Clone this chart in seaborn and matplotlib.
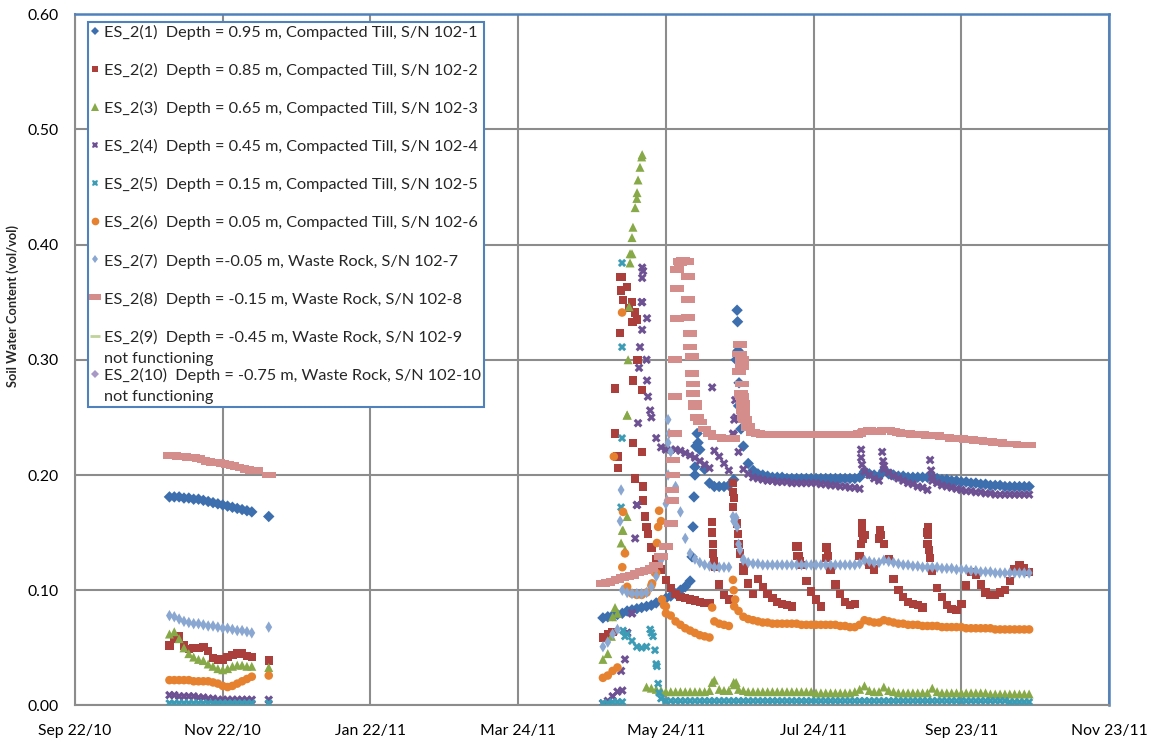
import numpy as np
import pandas as pd
import matplotlib
matplotlib.use("Agg")
import matplotlib.pyplot as plt
from matplotlib.lines import Line2D
from matplotlib.legend_handler import HandlerLine2D
import seaborn as sns

NA = np.nan
DAY0 = "2010-09-22"

# ---- x positions (days since Sep 22/10) ----
P1_DAYS = [39, 41, 43, 45, 47, 49, 51, 53, 55, 57, 59, 61, 63, 65, 67, 69, 71, 73, 75, 80]
P2_DAYS = list(range(218, 395, 2))   # 89 sample days, Apr 28/11 .. Oct 21/11

TICK_DATES = ["2010-09-22", "2010-11-22", "2011-01-22", "2011-03-24",
              "2011-05-24", "2011-07-24", "2011-09-23", "2011-11-23"]
TICK_LABELS = ["Sep 22/10", "Nov 22/10", "Jan 22/11", "Mar 24/11",
               "May 24/11", "Jul 24/11", "Sep 23/11", "Nov 23/11"]
Y_TICKS = [0.0, 0.1, 0.2, 0.3, 0.4, 0.5, 0.6]

LABELS = [
    "ES_2(1)  Depth = 0.95 m, Compacted Till, S/N 102-1",
    "ES_2(2)  Depth = 0.85 m, Compacted Till, S/N 102-2",
    "ES_2(3)  Depth = 0.65 m, Compacted Till, S/N 102-3",
    "ES_2(4)  Depth = 0.45 m, Compacted Till, S/N 102-4",
    "ES_2(5)  Depth = 0.15 m, Compacted Till, S/N 102-5",
    "ES_2(6)  Depth = 0.05 m, Compacted Till, S/N 102-6",
    "ES_2(7)  Depth =-0.05 m, Waste Rock, S/N 102-7",
    "ES_2(8)  Depth = -0.15 m, Waste Rock, S/N 102-8",
    "ES_2(9)  Depth = -0.45 m, Waste Rock, S/N 102-9\nnot functioning",
    "ES_2(10)  Depth = -0.75 m, Waste Rock, S/N 102-10\nnot functioning",
]

# ---- Series 1 (0.95 m) ----
S1_P1 = [0.181, 0.181, 0.181, 0.180, 0.180, 0.179, 0.179, 0.178, 0.177, 0.176,
         0.175, 0.174, 0.173, 0.172, 0.171, 0.170, 0.169, 0.168, NA, 0.164]
S1_P2 = [0.076, 0.077, 0.078, 0.079, 0.080, 0.082, 0.083, 0.084, 0.085, 0.086,
         0.087, 0.089, 0.091, 0.093, 0.095, 0.097, 0.100, 0.103, 0.108, 0.200,
         0.222, 0.205, 0.193, 0.190, 0.190, 0.190, 0.191, 0.196, 0.260, 0.225,
         0.210, 0.204, 0.201, 0.200, 0.199, 0.198, 0.198, 0.198, 0.197, 0.197,
         0.197, 0.197, 0.197, 0.197, 0.197, 0.197, 0.197, 0.197, 0.197, 0.197,
         0.197, 0.197, 0.197, 0.198, 0.203, 0.201, 0.200, 0.199, 0.204, 0.201,
         0.200, 0.199, 0.199, 0.198, 0.198, 0.198, 0.198, 0.198, 0.199, 0.197,
         0.196, 0.196, 0.195, 0.195, 0.194, 0.194, 0.193, 0.193, 0.192, 0.192,
         0.191, 0.191, 0.191, 0.190, 0.190, 0.190, 0.190, 0.190, 0.190]
S1_XD = [254.8, 255.2, 255.6, 256.0, 256.4, 256.9, 257.3, 273.0, 273.4, 273.6, 273.8, 274.2, 275.0]
S1_XV = [0.129, 0.155, 0.181, 0.207, 0.225, 0.236, 0.228, 0.300, 0.343, 0.333, 0.308, 0.280, 0.240]

# ---- Series 2 (0.85 m) ----
S2_P1 = [0.052, 0.058, 0.060, 0.052, 0.049, 0.050, 0.050, 0.051, 0.047, 0.041,
         0.040, 0.040, 0.042, 0.044, 0.045, 0.045, 0.043, 0.042, NA, 0.039]
S2_P2 = [0.059, 0.062, 0.064, 0.216, 0.372, 0.363, 0.333, 0.300, 0.220, 0.155,
         0.137, 0.127, 0.118, 0.109, 0.102, 0.097, 0.094, 0.093, 0.092, 0.091,
         0.090, 0.089, 0.089, 0.125, 0.105, 0.096, 0.092, 0.180, 0.140, 0.117,
         0.106, 0.097, 0.110, 0.103, 0.097, 0.093, 0.090, 0.088, 0.087, 0.086,
         0.138, 0.122, 0.108, 0.099, 0.092, 0.086, 0.137, 0.118, 0.105, 0.097,
         0.090, 0.087, 0.088, 0.130, 0.148, 0.122, 0.118, 0.145, 0.140, 0.127,
         0.110, 0.100, 0.094, 0.090, 0.088, 0.087, 0.085, 0.150, 0.117, 0.102,
         0.094, 0.087, 0.084, 0.083, 0.088, 0.104, 0.116, 0.113, 0.105, 0.098,
         0.096, 0.096, 0.098, 0.100, 0.108, 0.118, 0.122, 0.119, 0.116]
S2_XD = [223.0, 223.8, 224.2, 225.1, 225.5, 226.3, 225.1, 228.7, 230.0, 230.4, 231.3, 232.1,
         232.5, 230.4, 223.0, 234.2, 230.4, 231.3, 234.6, 234.6, 235.4, 236.6,
         263.1, 263.1, 263.5, 263.5, 264.3, 271.7, 271.7, 271.7, 273.4, 273.8, 274.6, 275.9,
         298.3, 298.6, 298.8, 299.5, 310.3, 310.6, 311.0, 324.6, 325.0, 325.0, 325.4,
         332.4, 332.8, 352.0, 352.3, 352.3, 352.6, 353.1]
S2_XV = [0.236, 0.216, 0.206, 0.372, 0.360, 0.352, 0.323, 0.345, 0.350, 0.333, 0.341, 0.335,
         0.300, 0.282, 0.275, 0.274, 0.228, 0.197, 0.190, 0.178, 0.164, 0.149,
         0.159, 0.150, 0.140, 0.132, 0.120, 0.193, 0.185, 0.172, 0.158, 0.149, 0.132, 0.120,
         0.130, 0.138, 0.130, 0.125, 0.128, 0.137, 0.130, 0.140, 0.158, 0.150, 0.145,
         0.152, 0.148, 0.140, 0.155, 0.148, 0.135, 0.128]

# ---- Series 3 (0.65 m) ----
S3_P1 = [0.062, 0.064, 0.058, 0.050, 0.045, 0.042, 0.040, 0.039, 0.036, 0.034,
         0.032, 0.031, 0.032, 0.034, 0.035, 0.035, 0.034, 0.034, NA, 0.033]
S3_P2 = [0.040, 0.045, 0.077, 0.080, 0.152, 0.252, 0.392, 0.440, 0.476, 0.016,
         0.015, 0.014, 0.013, 0.012, 0.012, 0.012, 0.012, 0.012, 0.012, 0.012,
         0.012, 0.012, 0.013, 0.022, 0.014, 0.013, 0.013, 0.020, 0.014, 0.013,
         0.012, 0.012, 0.012, 0.012, 0.012, 0.012, 0.012, 0.012, 0.012, 0.012,
         0.012, 0.012, 0.012, 0.012, 0.011, 0.011, 0.011, 0.011, 0.011, 0.011,
         0.011, 0.011, 0.012, 0.014, 0.017, 0.013, 0.012, 0.012, 0.016, 0.013,
         0.012, 0.011, 0.011, 0.011, 0.011, 0.011, 0.011, 0.011, 0.015, 0.012,
         0.011, 0.011, 0.011, 0.011, 0.011, 0.011, 0.011, 0.011, 0.011, 0.011,
         0.010, 0.010, 0.010, 0.010, 0.010, 0.010, 0.010, 0.010, 0.010]
S3_XD = [221.5, 223.0, 225.5, 226.3, 227.1, 228.0, 228.0, 228.4, 228.8, 229.2, 229.2, 230.0,
         230.4, 231.3, 232.1, 232.5, 233.3, 234.2, 263.1, 272.2, 273.0]
S3_XV = [0.060, 0.085, 0.141, 0.152, 0.135, 0.164, 0.252, 0.300, 0.346, 0.384, 0.392, 0.406,
         0.415, 0.432, 0.445, 0.456, 0.467, 0.478, 0.020, 0.018, 0.020]

# ---- Series 4 (0.45 m) ----
S4_P1 = [0.009, 0.009, 0.008, 0.008, 0.008, 0.008, 0.007, 0.007, 0.006, 0.006,
         0.005, 0.005, 0.005, 0.005, 0.005, 0.005, 0.005, 0.005, NA, 0.005]
S4_P2 = [0.002, 0.004, 0.008, 0.012, 0.013, 0.063, 0.080, 0.174, 0.350, 0.300,
         0.250, 0.232, 0.224, 0.222, 0.222, 0.222, 0.221, 0.219, 0.217, 0.215,
         0.212, 0.209, 0.206, 0.221, 0.216, 0.210, 0.204, 0.235, 0.220, 0.205,
         0.201, 0.198, 0.197, 0.196, 0.195, 0.195, 0.194, 0.194, 0.194, 0.193,
         0.193, 0.193, 0.193, 0.193, 0.193, 0.192, 0.192, 0.191, 0.191, 0.190,
         0.190, 0.189, 0.189, 0.188, 0.203, 0.200, 0.197, 0.195, 0.205, 0.202,
         0.199, 0.197, 0.195, 0.193, 0.192, 0.190, 0.189, 0.187, 0.195, 0.193,
         0.191, 0.190, 0.189, 0.188, 0.187, 0.186, 0.186, 0.185, 0.185, 0.184,
         0.184, 0.183, 0.183, 0.183, 0.183, 0.183, 0.183, 0.183, 0.183]
S4_XD = [225.5, 227.1, 228.0, 230.0, 231.3, 232.1, 232.5, 234.2, 234.6, 234.2, 234.2, 236.2,
         234.2, 233.3, 232.9, 236.2, 236.6, 237.5, 263.1, 271.7, 272.2, 272.6, 273.0,
         324.2, 324.6, 324.6, 325.0, 333.3, 333.7, 334.1, 353.1, 353.5, 353.9]
S4_XV = [0.030, 0.040, 0.063, 0.080, 0.145, 0.174, 0.245, 0.380, 0.377, 0.371, 0.350, 0.336,
         0.326, 0.311, 0.293, 0.282, 0.268, 0.256, 0.276, 0.236, 0.248, 0.265, 0.250,
         0.236, 0.222, 0.215, 0.209, 0.220, 0.212, 0.208, 0.213, 0.204, 0.198]

# ---- Series 5 (0.15 m) ----
S5_P1 = [0.002, 0.002, 0.002, 0.002, 0.002, 0.002, 0.002, 0.002, 0.002, 0.002,
         0.002, 0.002, 0.002, 0.002, 0.002, 0.002, 0.002, 0.002, NA, 0.002]
S5_P2 = [0.002, 0.002, 0.003, 0.003, 0.003, 0.062, 0.056, 0.051, 0.050, 0.051,
         0.063, 0.036, 0.006, 0.004, 0.004, 0.004, 0.004, 0.004, 0.004, 0.004,
         0.004, 0.004, 0.004, 0.004, 0.004, 0.004, 0.004, 0.004, 0.004, 0.004,
         0.004, 0.004, 0.004, 0.004, 0.004, 0.004, 0.004, 0.004, 0.004, 0.004,
         0.004, 0.004, 0.004, 0.004, 0.004, 0.004, 0.004, 0.004, 0.004, 0.004,
         0.004, 0.004, 0.004, 0.004, 0.004, 0.004, 0.004, 0.004, 0.004, 0.004,
         0.004, 0.004, 0.004, 0.004, 0.004, 0.004, 0.004, 0.004, 0.004, 0.004,
         0.004, 0.004, 0.004, 0.004, 0.004, 0.004, 0.004, 0.004, 0.004, 0.004,
         0.004, 0.004, 0.004, 0.004, 0.003, 0.003, 0.003, 0.003, 0.003]
S5_XD = [225.5, 225.9, 225.9, 225.9, 226.3, 227.1, 237.5, 238.7, 239.5, 240.3, 240.8, 241.2]
S5_XV = [0.172, 0.232, 0.311, 0.384, 0.065, 0.060, 0.066, 0.060, 0.048, 0.034, 0.019, 0.011]

# ---- Series 6 (0.05 m) ----
S6_P1 = [0.022, 0.022, 0.022, 0.022, 0.022, 0.021, 0.021, 0.021, 0.021, 0.020,
         0.019, 0.017, 0.016, 0.017, 0.019, 0.021, 0.023, 0.025, NA, 0.026]
S6_P2 = [0.024, 0.026, 0.030, 0.033, 0.120, 0.103, 0.097, 0.096, 0.096, 0.098,
         0.104, 0.115, 0.160, 0.086, 0.078, 0.073, 0.070, 0.067, 0.065, 0.063,
         0.061, 0.060, 0.059, 0.073, 0.071, 0.070, 0.069, 0.100, 0.082, 0.077,
         0.075, 0.074, 0.073, 0.072, 0.072, 0.071, 0.071, 0.071, 0.071, 0.071,
         0.071, 0.070, 0.070, 0.070, 0.070, 0.070, 0.070, 0.070, 0.070, 0.069,
         0.069, 0.068, 0.068, 0.070, 0.074, 0.073, 0.072, 0.072, 0.074, 0.073,
         0.072, 0.071, 0.071, 0.070, 0.070, 0.070, 0.069, 0.069, 0.069, 0.069,
         0.068, 0.068, 0.068, 0.068, 0.068, 0.067, 0.067, 0.067, 0.067, 0.067,
         0.067, 0.066, 0.066, 0.066, 0.066, 0.066, 0.066, 0.066, 0.066]
S6_XD = [222.5, 225.9, 226.3, 227.1, 238.3, 239.5, 240.3, 240.8, 241.2, 242.4, 243.2, 244.0,
         263.1, 271.7, 272.2, 272.6]
S6_XV = [0.216, 0.341, 0.168, 0.132, 0.106, 0.115, 0.141, 0.155, 0.169, 0.092, 0.087, 0.080,
         0.085, 0.109, 0.086, 0.092]

# ---- Series 7 (-0.05 m) ----
S7_P1 = [0.078, 0.077, 0.075, 0.073, 0.072, 0.071, 0.071, 0.070, 0.069, 0.069,
         0.068, 0.067, 0.067, 0.066, 0.065, 0.065, 0.064, 0.063, NA, 0.068]
S7_P2 = [0.051, 0.055, 0.062, 0.066, 0.100, 0.098, 0.097, 0.097, 0.097, 0.098,
         0.103, 0.112, 0.126, 0.175, 0.220, 0.190, 0.168, 0.145, 0.132, 0.127,
         0.124, 0.122, 0.121, 0.120, 0.120, 0.120, 0.120, 0.160, 0.140, 0.127,
         0.124, 0.123, 0.123, 0.122, 0.122, 0.122, 0.122, 0.122, 0.122, 0.122,
         0.122, 0.122, 0.122, 0.122, 0.122, 0.122, 0.122, 0.122, 0.122, 0.122,
         0.122, 0.122, 0.122, 0.123, 0.126, 0.125, 0.124, 0.124, 0.126, 0.125,
         0.124, 0.123, 0.122, 0.122, 0.121, 0.121, 0.120, 0.120, 0.120, 0.120,
         0.119, 0.119, 0.119, 0.118, 0.118, 0.118, 0.117, 0.117, 0.116, 0.116,
         0.116, 0.115, 0.115, 0.115, 0.115, 0.115, 0.115, 0.115, 0.115]
S7_XD = [225.5, 225.1, 244.5, 244.9, 244.9, 244.9, 245.3, 271.7, 272.2, 273.0, 273.4, 274.6, 275.9]
S7_XV = [0.187, 0.160, 0.178, 0.200, 0.228, 0.248, 0.236, 0.164, 0.160, 0.163, 0.155, 0.135, 0.126]

# ---- Series 8 (-0.15 m) ----
S8_P1 = [0.217, 0.217, 0.216, 0.216, 0.215, 0.215, 0.214, 0.213, 0.212, 0.211,
         0.211, 0.210, 0.209, 0.208, 0.207, 0.206, 0.205, 0.204, 0.204, 0.200]
S8_P2 = [0.106, 0.107, 0.108, 0.109, 0.111, 0.112, 0.113, 0.115, 0.116, 0.117,
         0.119, 0.122, 0.129, 0.138, 0.158, 0.300, 0.384, 0.385, 0.323, 0.262,
         0.246, 0.240, 0.236, 0.233, 0.233, 0.232, 0.232, 0.232, 0.305, 0.250,
         0.241, 0.237, 0.236, 0.235, 0.235, 0.235, 0.235, 0.235, 0.235, 0.235,
         0.235, 0.235, 0.235, 0.235, 0.235, 0.235, 0.235, 0.235, 0.235, 0.235,
         0.235, 0.235, 0.235, 0.236, 0.238, 0.239, 0.238, 0.238, 0.239, 0.239,
         0.238, 0.237, 0.236, 0.236, 0.235, 0.235, 0.235, 0.234, 0.234, 0.234,
         0.233, 0.233, 0.232, 0.232, 0.232, 0.231, 0.231, 0.230, 0.230, 0.229,
         0.229, 0.228, 0.228, 0.227, 0.227, 0.227, 0.226, 0.226, 0.226]
S8_XD = [246.5, 246.5, 247.0, 247.0, 247.8, 247.8, 247.8, 248.6, 248.6, 248.6, 249.9, 251.1,
         252.7, 253.2, 253.2, 253.2, 254.0, 254.8, 254.8, 255.2, 255.2, 256.0, 256.9,
         274.2, 274.6, 274.6, 275.4, 275.4, 275.4, 275.0, 275.4, 275.9, 275.9, 276.7, 277.9]
S8_XV = [0.178, 0.187, 0.200, 0.213, 0.236, 0.268, 0.300, 0.336, 0.362, 0.378, 0.385, 0.386,
         0.385, 0.372, 0.352, 0.337, 0.311, 0.303, 0.288, 0.279, 0.271, 0.259, 0.250,
         0.290, 0.313, 0.305, 0.300, 0.294, 0.279, 0.271, 0.268, 0.262, 0.256, 0.248, 0.242]

COLORS = ["#3D6FAF", "#AA3F3C", "#87A947", "#6D5193", "#3C9CB5",
          "#E6812F", "#8AA7D1", "#D58D8C", "#BFD39A", "#A898C4"]

RECT = [(-2, -1), (2, -1), (2, 1), (-2, 1), (-2, -1)]
MARKERS = ["D", "s", "^", "X", "X", "o", "d", RECT]
SIZES = [34, 36, 42, 40, 36, 38, 34, 95]

SERIES = [
    (S1_P1, S1_P2, S1_XD, S1_XV),
    (S2_P1, S2_P2, S2_XD, S2_XV),
    (S3_P1, S3_P2, S3_XD, S3_XV),
    (S4_P1, S4_P2, S4_XD, S4_XV),
    (S5_P1, S5_P2, S5_XD, S5_XV),
    (S6_P1, S6_P2, S6_XD, S6_XV),
    (S7_P1, S7_P2, S7_XD, S7_XV),
    (S8_P1, S8_P2, S8_XD, S8_XV),
]

sns.set_style("white")
FONT = ["Lato", "DejaVu Sans"]
plt.rcParams["font.family"] = FONT

fig = plt.figure(figsize=(11.51, 7.42), dpi=100)
ax = fig.add_axes([0.06516, 0.0492, 0.8984, 0.9319])

t0 = pd.Timestamp(DAY0)
for i, (p1, p2, xd, xv) in enumerate(SERIES):
    days = list(P1_DAYS) + list(P2_DAYS) + list(xd)
    vals = list(p1) + list(p2) + list(xv)
    df = pd.DataFrame({"day": days, "swc": vals}).dropna()
    df["date"] = t0 + pd.to_timedelta(df["day"], unit="D")
    sns.scatterplot(data=df, x="date", y="swc", ax=ax, marker=MARKERS[i],
                    s=SIZES[i], color=COLORS[i], linewidth=0, edgecolor="none",
                    legend=False, zorder=3 + i)

ax.set_xlim(pd.Timestamp(TICK_DATES[0]), pd.Timestamp(TICK_DATES[-1]))
ax.set_ylim(0, 0.6)
ax.set_xticks([pd.Timestamp(d) for d in TICK_DATES])
ax.set_xticklabels(TICK_LABELS)
ax.set_yticks(Y_TICKS)
ax.set_yticklabels([f"{v:.2f}" for v in Y_TICKS])
ax.set_xlabel("")
ax.set_ylabel("Soil Water Content (vol/vol)", fontsize=9.3, fontweight="bold")
ax.yaxis.set_label_coords(-0.054, 0.578)

grid_c = "#8C8C8C"
ax.set_axisbelow(True)
ax.grid(True, color=grid_c, linewidth=1.5)
for side in ["left", "bottom"]:
    ax.spines[side].set_color(grid_c)
    ax.spines[side].set_linewidth(1.5)
for side in ["top", "right"]:
    ax.spines[side].set_color("#4F81BD")
    ax.spines[side].set_linewidth(1.8)
ax.tick_params(axis="both", which="both", direction="out", length=6, width=1.5,
               color=grid_c, labelsize=11.3, labelcolor="black")
ax.tick_params(axis="y", pad=6)
ax.tick_params(axis="x", pad=7)


class RaisedHandler(HandlerLine2D):
    """Legend key drawn level with the first line of a two-line label."""
    def __init__(self, raise_pts, **kw):
        super().__init__(**kw)
        self.raise_pts = raise_pts

    def create_artists(self, legend, orig_handle, xdescent, ydescent, width,
                       height, fontsize, trans):
        arts = super().create_artists(legend, orig_handle, xdescent, ydescent,
                                      width, height, fontsize, trans)
        for a in arts:
            a.set_ydata(np.asarray(a.get_ydata(), dtype=float) + self.raise_pts)
        return arts


handles = []
legend_markers = ["D", "s", "^", "X", "X", "o", "d", RECT, "_", "D"]
legend_sizes = [4, 5, 5.5, 5, 5, 5.5, 4.5, 9, 7, 4]
for i in range(10):
    h = Line2D([], [], linestyle="none", marker=legend_markers[i],
               markersize=legend_sizes[i], color=COLORS[i],
               markeredgewidth=(2 if legend_markers[i] == "_" else 0))
    handles.append(h)

leg_labels = [lab if "\n" in lab else lab + "\n " for lab in LABELS]
leg = ax.legend(handles, leg_labels, loc="upper left", bbox_to_anchor=(0.0126, 0.988),
                borderaxespad=0, frameon=True, fancybox=False, framealpha=1,
                edgecolor="#4F81BD", fontsize=11.7, handlelength=0.55,
                handletextpad=0.3, borderpad=0.15, labelspacing=0.09,
                handler_map={Line2D: RaisedHandler(8.8)})
for t in leg.get_texts():
    t.set_linespacing(1.69)
leg.get_frame().set_linewidth(1.5)
leg.set_zorder(20)

fig.savefig("out.png", dpi=100)
